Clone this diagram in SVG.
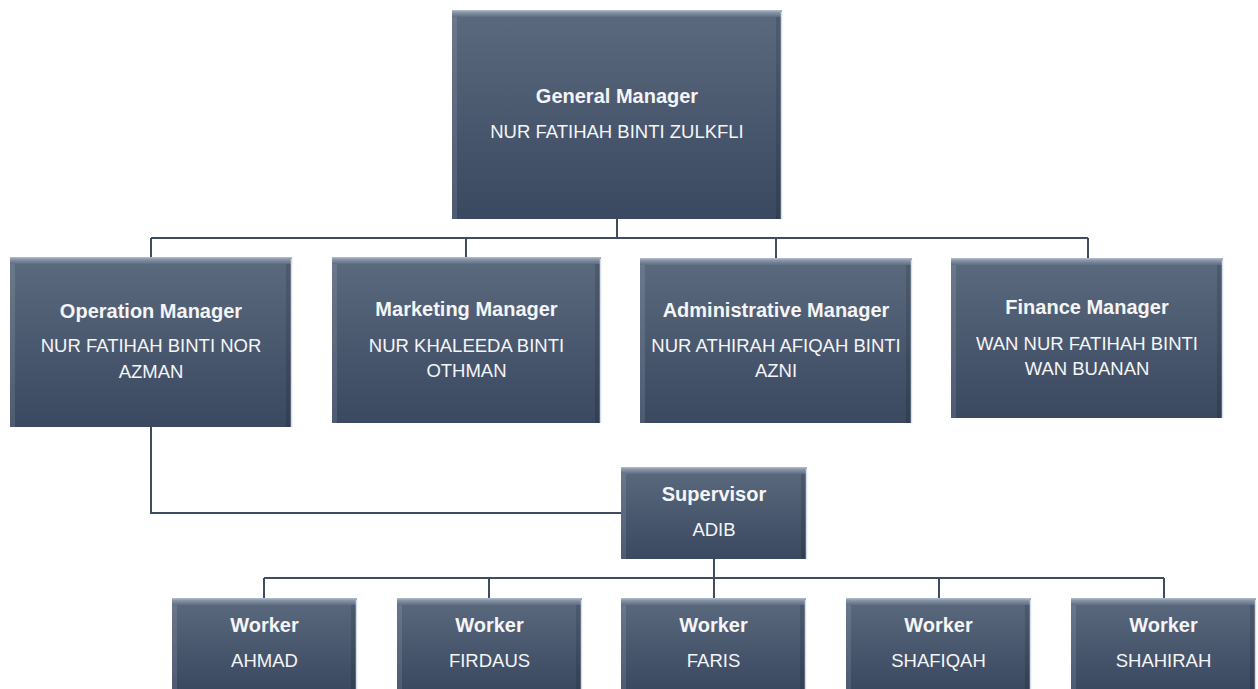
<svg xmlns="http://www.w3.org/2000/svg" width="1258" height="689" viewBox="0 0 1258 689">
<defs>
<linearGradient id="body" x1="0" y1="0" x2="0" y2="1">
<stop offset="0" stop-color="#5c6a7f"/>
<stop offset="1" stop-color="#3a4860"/>
</linearGradient>
<linearGradient id="topbev" x1="0" y1="0" x2="0" y2="1">
<stop offset="0" stop-color="#b4bfcd"/>
<stop offset="0.35" stop-color="#8895a8"/>
<stop offset="1" stop-color="#5f6d82"/>
</linearGradient>
<style>
.box{fill:url(#body);}
.tb{fill:url(#topbev);}
.lb{fill:#ffffff;fill-opacity:0.1;}
.rb{fill:#000000;fill-opacity:0.13;}
.edge{stroke:#d3ddee;stroke-width:1.5;}
.conn{fill:none;stroke:#3f4d62;stroke-width:2;}
text{font-family:"Liberation Sans",Arial,sans-serif;fill:#f4f5f7;text-anchor:middle;}
.t{font-weight:bold;font-size:20px;}
.n{font-size:18.5px;}
</style>
</defs>
<g id="connectors">
<path class="conn" d="M617 219V238M151 238H1088M151 238V257M466 238V257M776 238V258M1088 238V258"/>
<path class="conn" d="M151 427V513H621"/>
<path class="conn" d="M714 559V578M264 578H1164M264 578V598M489 578V598M714 578V598M939 578V598M1164 578V598"/>
</g>
<g id="general-manager">
<rect class="box" x="452" y="10" width="330" height="209"/>
<rect class="tb" x="452" y="10" width="330" height="7"/>
<rect class="lb" x="452" y="17" width="5" height="202"/>
<rect class="rb" x="776" y="17" width="6" height="202"/>
<line class="edge" x1="781.5" y1="12" x2="781.5" y2="219"/>
<text class="t" x="617" y="103">General Manager</text>
<text class="n" x="617" y="138">NUR FATIHAH BINTI ZULKFLI</text>
</g>
<g id="operation-manager">
<rect class="box" x="10" y="257" width="282" height="170"/>
<rect class="tb" x="10" y="257" width="282" height="7"/>
<rect class="lb" x="10" y="264" width="5" height="163"/>
<rect class="rb" x="286" y="264" width="6" height="163"/>
<line class="edge" x1="291.5" y1="259" x2="291.5" y2="427"/>
<text class="t" x="151" y="318">Operation Manager</text>
<text class="n" x="151" y="352">NUR FATIHAH BINTI NOR</text>
<text class="n" x="151" y="378">AZMAN</text>
</g>
<g id="marketing-manager">
<rect class="box" x="332" y="257" width="269" height="166"/>
<rect class="tb" x="332" y="257" width="269" height="7"/>
<rect class="lb" x="332" y="264" width="5" height="159"/>
<rect class="rb" x="595" y="264" width="6" height="159"/>
<line class="edge" x1="600.5" y1="259" x2="600.5" y2="423"/>
<text class="t" x="466.5" y="316">Marketing Manager</text>
<text class="n" x="466.5" y="352">NUR KHALEEDA BINTI</text>
<text class="n" x="466.5" y="377">OTHMAN</text>
</g>
<g id="administrative-manager">
<rect class="box" x="640" y="258" width="272" height="165"/>
<rect class="tb" x="640" y="258" width="272" height="7"/>
<rect class="lb" x="640" y="265" width="5" height="158"/>
<rect class="rb" x="906" y="265" width="6" height="158"/>
<line class="edge" x1="911.5" y1="260" x2="911.5" y2="423"/>
<text class="t" x="776" y="317">Administrative Manager</text>
<text class="n" x="776" y="352">NUR ATHIRAH AFIQAH BINTI</text>
<text class="n" x="776" y="377">AZNI</text>
</g>
<g id="finance-manager">
<rect class="box" x="951" y="258" width="272" height="160"/>
<rect class="tb" x="951" y="258" width="272" height="7"/>
<rect class="lb" x="951" y="265" width="5" height="153"/>
<rect class="rb" x="1217" y="265" width="6" height="153"/>
<line class="edge" x1="1222.5" y1="260" x2="1222.5" y2="418"/>
<text class="t" x="1087" y="314">Finance Manager</text>
<text class="n" x="1087" y="350">WAN NUR FATIHAH BINTI</text>
<text class="n" x="1087" y="375">WAN BUANAN</text>
</g>
<g id="supervisor">
<rect class="box" x="621" y="467" width="186" height="92"/>
<rect class="tb" x="621" y="467" width="186" height="7"/>
<rect class="lb" x="621" y="474" width="5" height="85"/>
<rect class="rb" x="801" y="474" width="6" height="85"/>
<line class="edge" x1="806.5" y1="469" x2="806.5" y2="559"/>
<text class="t" x="714" y="501">Supervisor</text>
<text class="n" x="714" y="536">ADIB</text>
</g>
<g id="worker-ahmad">
<rect class="box" x="172" y="598" width="185" height="92"/>
<rect class="tb" x="172" y="598" width="185" height="7"/>
<rect class="lb" x="172" y="605" width="5" height="85"/>
<rect class="rb" x="351" y="605" width="6" height="85"/>
<line class="edge" x1="356.5" y1="600" x2="356.5" y2="690"/>
<text class="t" x="264.5" y="632">Worker</text>
<text class="n" x="264.5" y="667">AHMAD</text>
</g>
<g id="worker-firdaus">
<rect class="box" x="397" y="598" width="185" height="92"/>
<rect class="tb" x="397" y="598" width="185" height="7"/>
<rect class="lb" x="397" y="605" width="5" height="85"/>
<rect class="rb" x="576" y="605" width="6" height="85"/>
<line class="edge" x1="581.5" y1="600" x2="581.5" y2="690"/>
<text class="t" x="489.5" y="632">Worker</text>
<text class="n" x="489.5" y="667">FIRDAUS</text>
</g>
<g id="worker-faris">
<rect class="box" x="621" y="598" width="185" height="92"/>
<rect class="tb" x="621" y="598" width="185" height="7"/>
<rect class="lb" x="621" y="605" width="5" height="85"/>
<rect class="rb" x="800" y="605" width="6" height="85"/>
<line class="edge" x1="805.5" y1="600" x2="805.5" y2="690"/>
<text class="t" x="713.5" y="632">Worker</text>
<text class="n" x="713.5" y="667">FARIS</text>
</g>
<g id="worker-shafiqah">
<rect class="box" x="846" y="598" width="185" height="92"/>
<rect class="tb" x="846" y="598" width="185" height="7"/>
<rect class="lb" x="846" y="605" width="5" height="85"/>
<rect class="rb" x="1025" y="605" width="6" height="85"/>
<line class="edge" x1="1030.5" y1="600" x2="1030.5" y2="690"/>
<text class="t" x="938.5" y="632">Worker</text>
<text class="n" x="938.5" y="667">SHAFIQAH</text>
</g>
<g id="worker-shahirah">
<rect class="box" x="1071" y="598" width="185" height="92"/>
<rect class="tb" x="1071" y="598" width="185" height="7"/>
<rect class="lb" x="1071" y="605" width="5" height="85"/>
<rect class="rb" x="1250" y="605" width="6" height="85"/>
<line class="edge" x1="1255.5" y1="600" x2="1255.5" y2="690"/>
<text class="t" x="1163.5" y="632">Worker</text>
<text class="n" x="1163.5" y="667">SHAHIRAH</text>
</g>
</svg>
